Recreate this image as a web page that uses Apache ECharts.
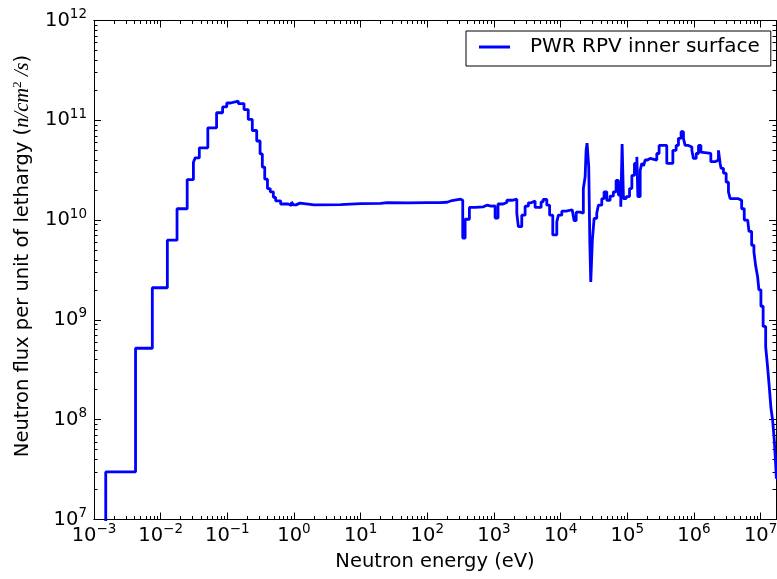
<!DOCTYPE html>
<html><head><meta charset="utf-8">
<script src="https://cdn.jsdelivr.net/npm/echarts@6/dist/echarts.min.js"></script>
<style>html,body{margin:0;padding:0;background:#fff}#c{width:777px;height:579px}</style>
</head><body><div id="c"></div>
<script>
// Group left edges (eV) and flux per unit lethargy (n/cm^2/s), step function
const energyEV = [
  1.0e-3, 1.5e-3, 4.2e-3, 7.5e-3, 1.26e-2, 1.76e-2, 2.5e-2, 3.1e-2, 3.3e-2, 3.8e-2,
  5.1e-2, 6.9e-2, 8.5e-2, 9.8e-2, 0.112, 0.146, 0.178, 0.206, 0.237, 0.276,
  0.31, 0.335, 0.364, 0.40, 0.44, 0.49, 0.53, 0.63, 0.82, 0.92,
  0.98, 1.07, 1.23, 2, 5, 10, 20, 25, 50, 100,
  155, 198, 235, 315, 340, 369, 428, 521, 694, 780,
  905, 1040, 1150, 1370, 1560, 1870, 2200, 2320, 2610, 2930,
  3280, 3600, 4140, 5090, 5460, 6200, 6830, 7620, 8750, 9250,
  1.04e4, 1.21e4, 1.49e4, 1.59e4, 1.71e4, 1.96e4, 2.19e4, 2.33e4, 2.41e4, 2.49e4,
  2.64e4, 2.74e4, 2.83e4, 2.99e4, 3.18e4, 3.48e4, 3.68e4, 4.14e4, 4.48e4, 4.92e4,
  5.52e4, 6.18e4, 6.79e4, 7.36e4, 7.98e4, 8.36e4, 8.75e4, 9.6e4, 1.08e5, 1.17e5,
  1.28e5, 1.39e5, 1.44e5, 1.56e5, 1.65e5, 1.75e5, 1.85e5, 2.0e5, 2.2e5, 2.77e5,
  3.0e5, 3.91e5, 4.82e5, 5.4e5, 5.85e5, 6.41e5, 6.95e5, 7.36e5, 8.26e5, 9.3e5,
  9.8e5, 1.08e6, 1.17e6, 1.27e6, 1.36e6, 1.79e6, 2.08e6, 2.33e6, 2.47e6, 2.55e6,
  2.77e6, 3.04e6, 3.29e6, 3.49e6, 4.64e6, 5.19e6, 5.68e6, 6.4e6, 6.68e6, 7.33e6,
  7.93e6, 8.41e6, 9.01e6, 9.42e6, 1.01e7, 1.09e7, 1.19e7, 1.27e7, 1.35e7, 1.43e7,
  1.51e7, 1.60e7, 1.68e7, 1.72e7, 2.0e7
];
const fluxPerLethargy = [
  1e6, 3.0e7, 5.2e8, 2.1e9, 6.3e9, 1.3e10, 2.55e10, 3.8e10, 4.2e10, 5.3e10,
  8.4e10, 1.19e11, 1.36e11, 1.49e11, 1.56e11, 1.47e11, 1.28e11, 1.02e11, 7.9e10, 6.2e10,
  4.6e10, 3.4e10, 2.57e10, 2.07e10, 1.92e10, 1.69e10, 1.56e10, 1.45e10, 1.40e10, 1.52e10,
  1.42e10, 1.48e10, 1.42e10, 1.43e10, 1.46e10, 1.47e10, 1.50e10, 1.49e10, 1.50e10, 1.50e10,
  1.51e10, 1.57e10, 1.62e10, 1.58e10, 6.6e9, 1.02e10, 1.34e10, 1.36e10, 1.41e10, 1.38e10,
  1.39e10, 1.05e10, 1.45e10, 1.50e10, 1.58e10, 1.62e10, 1.17e10, 8.6e9, 1.12e10, 1.38e10,
  1.49e10, 1.55e10, 1.34e10, 1.52e10, 1.61e10, 1.41e10, 1.12e10, 7.1e9, 9.6e9, 1.12e10,
  1.23e10, 1.27e10, 1.24e10, 9.9e9, 1.2e10, 1.17e10, 2.07e10, 2.7e10, 5.0e10, 5.9e10,
  3.4e10, 5.9e9, 2.4e9, 6.3e9, 1.04e10, 1.17e10, 1.41e10, 1.64e10, 1.92e10, 1.58e10,
  1.74e10, 1.92e10, 2.5e10, 1.78e10, 1.36e10, 5.8e10, 1.64e10, 1.72e10, 2.07e10, 2.8e10,
  3.7e10, 4.3e10, 1.72e10, 3.16e10, 3.7e10, 3.5e10, 4.0e10, 4.15e10, 4.0e10, 4.65e10,
  5.6e10, 3.7e10, 5.0e10, 5.6e10, 6.6e10, 7.7e10, 6.6e10, 5.6e10, 5.4e10, 5.0e10,
  4.15e10, 4.65e10, 5.6e10, 4.8e10, 4.65e10, 3.85e10, 4.0e10, 5.0e10, 3.7e10, 3.3e10,
  2.95e10, 2.4e10, 1.92e10, 1.64e10, 1.58e10, 1.3e10, 1.0e10, 9.6e9, 7.7e9, 5.6e9,
  4.8e9, 3.5e9, 2.7e9, 2.0e9, 1.37e9, 8.6e8, 5.4e8, 3.4e8, 2.1e8, 1.3e8,
  1.0e8, 6.3e7, 3.6e7, 2.6e7, 2.0e7
];
const xTickExponents = [-3, -2, -1, 0, 1, 2, 3, 4, 5, 6, 7];
const yTickExponents = [7, 8, 9, 10, 11, 12];
const seriesName = 'PWR RPV inner surface';
const xTitle = 'Neutron energy (eV)';
const yTitleText = 'Neutron flux per unit of lethargy ';
const yTitleMath = ['n/cm', '2', ' /s'];
const X_MIN = 1e-3, X_MAX = 1.7e7, Y_MIN = 1e7, Y_MAX = 1e12;

const FONT = 'DejaVu Sans';
const majorsOf = exps => exps.map(e => Number('1e' + e));
function minorsOf(lo, hi) {
  const out = [];
  for (let e = lo; e <= hi; e++) for (let k = 2; k <= 9; k++) out.push(Number(k + 'e' + e));
  return out;
}
const xMajor = majorsOf(xTickExponents), yMajor = majorsOf(yTickExponents);
const xMinor = minorsOf(-3, 7), yMinor = minorsOf(7, 11);

const powLabel = v => {
  const e = Math.round(Math.log10(v));
  return '{b|10}{s|' + String(e).replace('-', '\u2212') + '}';
};
const labelRich = {
  b: { fontSize: 19.5, lineHeight: 26, fontFamily: FONT, color: '#000', verticalAlign: 'middle' },
  s: { fontSize: 13.5, lineHeight: 15, fontFamily: FONT, color: '#000', verticalAlign: 'top' }
};
const lineBlack = { color: '#000', width: 1 };

function mkAxis(pos, min, max, ticks, len, withLabels) {
  const ax = {
    type: 'log', logBase: 10, position: pos, min: min, max: max,
    splitLine: { show: false },
    axisLine: { show: true, onZero: false, lineStyle: lineBlack },
    axisTick: { show: true, inside: true, length: len, customValues: ticks, lineStyle: lineBlack },
    axisLabel: { show: false },
    minorTick: { show: false }
  };
  if (withLabels) {
    ax.axisLabel = { show: true, customValues: ticks, formatter: powLabel, rich: labelRich,
      margin: pos === 'left' ? 7 : 3, color: '#000' };
  }
  return ax;
}

const xAxes = [
  mkAxis('bottom', X_MIN, X_MAX, xMajor, 7, true),
  mkAxis('bottom', X_MIN, X_MAX, xMinor, 3.5, false),
  mkAxis('top', X_MIN, X_MAX, xMajor, 7, false),
  mkAxis('top', X_MIN, X_MAX, xMinor, 3.5, false)
];
Object.assign(xAxes[0], {
  name: xTitle, nameLocation: 'middle', nameGap: 32,
  nameTextStyle: { fontSize: 19.5, fontFamily: FONT, color: '#000' }
});
const yAxes = [
  mkAxis('left', Y_MIN, Y_MAX, yMajor, 7, true),
  mkAxis('left', Y_MIN, Y_MAX, yMinor, 3.5, false),
  mkAxis('right', Y_MIN, Y_MAX, yMajor, 7, false),
  mkAxis('right', Y_MIN, Y_MAX, yMinor, 3.5, false)
];

const chart = echarts.init(document.getElementById('c'), null, { renderer: 'canvas' });
chart.setOption({
  animation: false,
  backgroundColor: '#fff',
  grid: { left: 94, top: 20.5, right: 1, bottom: 59.5, containLabel: false, outerBoundsMode: 'none' },
  xAxis: xAxes,
  yAxis: yAxes,
  legend: {
    data: [seriesName], left: 466, top: 31,
    padding: [5, 11, 8, 13],
    icon: 'rect', itemWidth: 31, itemHeight: 3,
    borderColor: '#000', borderWidth: 1, borderRadius: 0, backgroundColor: '#fff',
    textStyle: { fontSize: 20, fontFamily: FONT, color: '#000', lineHeight: 22, padding: [0, 0, 0, 15] }
  },
  graphic: [{
    type: 'text', x: 23, y: 256, rotation: Math.PI / 2,
    style: {
      text: '{a|' + yTitleText + '(}{m|' + yTitleMath[0] + '}{p|' + yTitleMath[1] + '}{m|' + yTitleMath[2] + '}{a|)}',
      align: 'center', verticalAlign: 'middle',
      rich: {
        a: { fontSize: 19.5, fontFamily: FONT, fill: '#000', lineHeight: 26, verticalAlign: 'middle' },
        m: { fontSize: 20.5, fontFamily: 'Liberation Serif', fontStyle: 'italic', fill: '#000', lineHeight: 26, verticalAlign: 'middle' },
        p: { fontSize: 13.5, fontFamily: 'Liberation Serif', fill: '#000', lineHeight: 15, verticalAlign: 'top' }
      }
    }
  }],
  series: [{
    name: seriesName, type: 'line', step: 'end',
    xAxisIndex: 0, yAxisIndex: 0,
    showSymbol: false, symbol: 'none',
    lineStyle: { color: '#0000ff', width: 2.8 },
    itemStyle: { color: '#0000ff' },
    clip: true,
    data: energyEV.map((e, i) => [e, fluxPerLethargy[i]])
  }]
});
</script>
</body></html>
